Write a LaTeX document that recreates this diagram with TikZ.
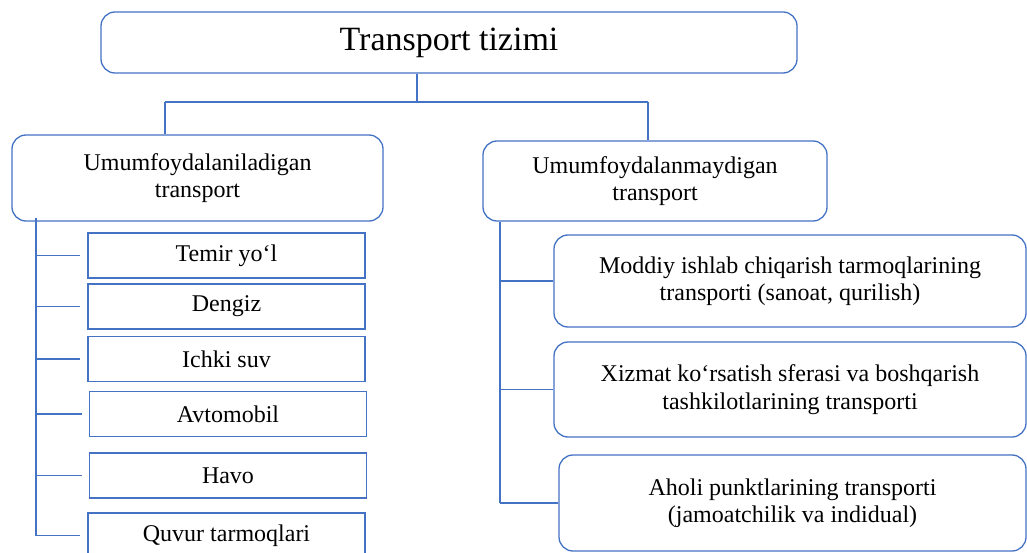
\documentclass[tikz,border=0pt]{standalone}
\usepackage{fontspec}
\setmainfont{Liberation Serif}
\usepackage{tikz}
\usetikzlibrary{arrows.meta, calc, positioning, shapes.misc}
\definecolor{chiziq}{HTML}{4472C4}

\begin{document}
\begin{tikzpicture}[x=1pt, y=-1pt,
        chiz/.style={draw=chiziq, line width=1.3pt},
        katta/.style={chiz, rounded corners=14pt, align=center, inner sep=0pt, font=\fontsize{24}{27.5}\selectfont},
        oddiy/.style={chiz, align=center, inner sep=0pt, minimum width=277pt, minimum height=45pt, font=\fontsize{24}{27.5}\selectfont}]

        % Chegaralar
        \clip (0,0) rectangle (1027,553);
        \fill[white] (0,0) rectangle (1027,553);

        % Bosh blok
        \node[katta, minimum width=696pt, minimum height=61pt, font=\fontsize{34}{36}\selectfont] (tizim) at (449,42.5) {Transport tizimi};

        % Ikkinchi daraja
        \node[katta, minimum width=371pt, minimum height=86pt] (umum) at (197.5,178) {Umumfoydalaniladigan\\transport};
        \node[katta, minimum width=344pt, minimum height=80pt] (umumemas) at (655,181) {Umumfoydalanmaydigan\\transport};

        % Chap ustun
        \node[oddiy] (temir) at (226.5,255.5) {Temir yo‘l};
        \node[oddiy] (dengiz) at (226.5,306.5) {Dengiz};
        \node[oddiy] (ichki) at (226.5,359) {Ichki suv};
        \node[oddiy] (avto) at (228,414) {Avtomobil};
        \node[oddiy] (havo) at (228,475.5) {Havo};
        \node[oddiy] (quvur) at (226.5,535.5) {Quvur tarmoqlari};

        % O'ng ustun
        \node[katta, minimum width=472pt, minimum height=92pt] (moddiy) at (790,281) {Moddiy ishlab chiqarish tarmoqlarining\\transporti (sanoat, qurilish)};
        \node[katta, minimum width=472pt, minimum height=95pt] (xizmat) at (790,389.5) {Xizmat ko‘rsatish sferasi va boshqarish\\tashkilotlarining transporti};
        \node[katta, minimum width=467pt, minimum height=96pt] (aholi) at (792.5,503) {Aholi punktlarining transporti\\(jamoatchilik va indidual)};

        % Tarmoqlanish nuqtalari
        \coordinate (tugun) at (417,102);
        \coordinate (tugunL) at (165,102);
        \coordinate (tugunR) at (648,102);
        \coordinate (ustunL) at (36,0);
        \coordinate (ustunR) at (500,0);

        % Bog'lovchi chiziqlar
        \draw[chiz] (tizim.south -| tugun) -- (tugun);
        \draw[chiz] (tugunL) -- (tugunR);
        \draw[chiz] (tugunL) -- (tugunL |- umum.north);
        \draw[chiz] (tugunR) -- (tugunR |- umumemas.north);
        \draw[chiz] ($(umum.south -| ustunL)+(0,-4)$) -- (ustunL |- quvur.west);
        \draw[chiz] (umumemas.south -| ustunR) -- (ustunR |- aholi.west);
        \foreach \t in {temir,dengiz,ichki,avto,havo,quvur}
            \draw[chiz, shorten >=7pt] (ustunL |- \t.west) -- (\t.west);
        \foreach \t in {moddiy,xizmat,aholi}
            \draw[chiz] (ustunR |- \t.west) -- (\t.west);

\end{tikzpicture}
\end{document}
